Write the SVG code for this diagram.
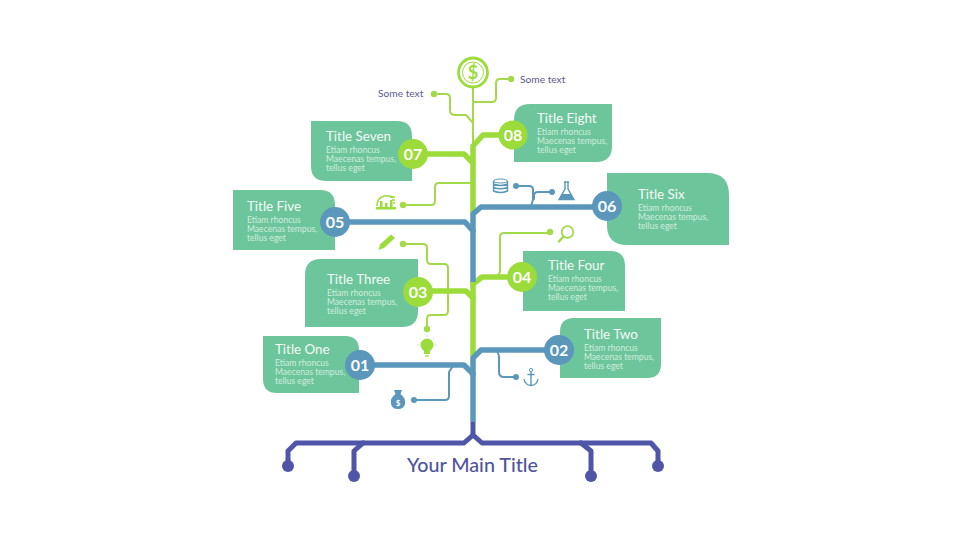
<svg xmlns="http://www.w3.org/2000/svg" width="960" height="540" viewBox="0 0 960 540">
<style>
text{font-family:"Lato","Open Sans","Liberation Sans",sans-serif}
.card{fill:#6dc59b}
.t{font-size:13.4px;fill:#f4fbf6}
.b{font-size:8.6px;fill:#cfeddc}
.n{font-size:16px;font-weight:700;fill:#fff;text-anchor:middle;font-family:"Lato","Open Sans",sans-serif}
.lime{fill:#9bdb3a}.blue{fill:#5b97bb}
.st{fill:none;stroke-linejoin:round;stroke-linecap:round}
.gT{stroke:#9bdb3a;stroke-width:5.500}
.bT{stroke:#5b97bb;stroke-width:5.500}
.pT{stroke:#4f55a7;stroke-width:5}
.gt{stroke:#a5d94c;stroke-width:2}
.bt{stroke:#5b97bb;stroke-width:2}
.some{font-size:10.200px;fill:#5a5a90}
.ig{fill:#9bdb3a}.ib{fill:#5b97bb}
.lg{fill:none;stroke:#9bdb3a;stroke-width:1.600}
.lb{fill:none;stroke:#5b97bb;stroke-width:1.400}
</style>
<rect width="960" height="540" fill="#fff"/>

<g id="connectors">
 <g class="st gt">
  <path d="M473 88V146"/>
  <path d="M434 94H446Q450 94 450 98V110Q450 115 455 115H466L473 123"/>
  <path d="M511 79H500Q496 79 496 83V98Q496 102 492 102H473"/>
  <path d="M403 205H431Q435 205 435 201V187Q435 183 439 183H473"/>
  <path d="M403 244H423Q427 244 427 248V260Q427 264 431 264H444Q448 264 448 268V291"/>
  <path d="M448 291V311Q448 315 444 315H431Q427 315 427 319V329"/>
  <path d="M497 277L500 272V237Q500 233 504 233H550"/>
 </g>
 <g class="st bt">
  <path d="M453 366L449 372V396Q449 400 445 400H414"/>
  <path d="M497 351L499 356V372Q499 377 504 377H516"/>
  <path d="M516 186H529Q533 186 533 190V200L531 206"/>
  <path d="M552 192H538Q534 192 534 196V199"/>
 </g>
 <g class="st gT">
  <path d="M473 214V146L483 135H513" stroke-linecap="butt"/>
  <path d="M413 154H464L473 163"/>
  <path d="M473 284L482 277H522"/>
  <path d="M418 291H466L473 298"/>
  <path d="M473 282V357" stroke-linecap="butt"/>
 </g>
 <g class="st bT">
  <path d="M473 282V214L481 207H607" stroke-linecap="butt"/>
  <path d="M335 222H465L473 231"/>
  <path d="M360 365H464L473 374"/>
  <path d="M473 422V358L481 350H559" stroke-linecap="butt"/>
 </g>
 <g class="st pT">
  <path d="M473 422V435" stroke-linecap="butt"/>
  <path d="M473 435L464 443H296L288 451V466"/>
  <path d="M473 435L482 443H651L658 451V466"/>
  <path d="M363 443L354 451V476"/>
  <path d="M581 443L591 451V476"/>
 </g>
 <g fill="#a5d94c">
  <circle cx="434" cy="94" r="3.200"/><circle cx="511" cy="79" r="3.200"/>
  <circle cx="403" cy="205" r="3.200"/><circle cx="403" cy="244" r="3.200"/>
  <circle cx="427" cy="329" r="3.200"/><circle cx="550" cy="232" r="3.200"/>
 </g>
 <g fill="#5b97bb">
  <circle cx="414" cy="400" r="3"/><circle cx="516" cy="377" r="3"/>
  <circle cx="516" cy="186" r="3"/><circle cx="552" cy="192" r="3"/>
 </g>
 <g fill="#4f55a7">
  <circle cx="288" cy="466" r="6"/><circle cx="354" cy="476" r="6"/>
  <circle cx="591" cy="476" r="6"/><circle cx="658" cy="466" r="6"/>
 </g>
</g>

<g id="root-icon">
 <circle cx="473" cy="72.500" r="14.500" fill="#fff" stroke="#9bdb3a" stroke-width="2.800"/>
 <circle cx="473" cy="72.500" r="10.500" fill="none" stroke="#9bdb3a" stroke-width="1"/>
 <text x="473" y="79" font-size="18" font-weight="700" text-anchor="middle" fill="#9bdb3a">$</text>
</g>
<g id="label-left"><text class="some" x="378" y="97">Some text</text></g>
<g id="label-right"><text class="some" x="520" y="83">Some text</text></g>

<g id="node-08">
 <path class="card" d="M530 104H612V146Q612 162 596 162H514V120Q514 104 530 104Z"/>
 <circle class="lime" cx="513" cy="135" r="14.500"/>
 <text class="n" x="513" y="141">08</text>
 <text class="t" x="537" y="122.500">Title Eight</text>
 <text class="b" x="537" y="135">Etiam rhoncus</text><text class="b" x="537" y="144">Maecenas tempus,</text><text class="b" x="537" y="153">tellus eget</text>
</g>
<g id="node-07">
 <path class="card" d="M311 121H397Q412 121 412 136V181H326Q311 181 311 166Z"/>
 <circle class="lime" cx="413" cy="154" r="15"/>
 <text class="n" x="413" y="160">07</text>
 <text class="t" x="326" y="140.500">Title Seven</text>
 <text class="b" x="326" y="153">Etiam rhoncus</text><text class="b" x="326" y="162">Maecenas tempus,</text><text class="b" x="326" y="171">tellus eget</text>
</g>
<g id="node-06">
 <path class="card" d="M607 173H707Q729 173 729 195V245H627Q607 245 607 225Z"/>
 <circle class="blue" cx="607" cy="206" r="15"/>
 <text class="n" x="607" y="212">06</text>
 <text class="t" x="638" y="198.500">Title Six</text>
 <text class="b" x="638" y="211">Etiam rhoncus</text><text class="b" x="638" y="220">Maecenas tempus,</text><text class="b" x="638" y="229">tellus eget</text>
</g>
<g id="node-05">
 <path class="card" d="M233 190H320Q335 190 335 205V250H233Z"/>
 <circle class="blue" cx="335" cy="222" r="15"/>
 <text class="n" x="335" y="228">05</text>
 <text class="t" x="247" y="210.500">Title Five</text>
 <text class="b" x="247" y="223">Etiam rhoncus</text><text class="b" x="247" y="232">Maecenas tempus,</text><text class="b" x="247" y="241">tellus eget</text>
</g>
<g id="node-04">
 <path class="card" d="M523 251H610Q625 251 625 266V311H523Z"/>
 <circle class="lime" cx="522" cy="277" r="15"/>
 <text class="n" x="522" y="283">04</text>
 <text class="t" x="548" y="269.500">Title Four</text>
 <text class="b" x="548" y="282">Etiam rhoncus</text><text class="b" x="548" y="291">Maecenas tempus,</text><text class="b" x="548" y="300">tellus eget</text>
</g>
<g id="node-03">
 <path class="card" d="M321 259H418V311Q418 327 402 327H305V275Q305 259 321 259Z"/>
 <circle class="lime" cx="418" cy="292" r="15"/>
 <text class="n" x="418" y="298">03</text>
 <text class="t" x="327" y="283.500">Title Three</text>
 <text class="b" x="327" y="296">Etiam rhoncus</text><text class="b" x="327" y="305">Maecenas tempus,</text><text class="b" x="327" y="314">tellus eget</text>
</g>
<g id="node-02">
 <path class="card" d="M574 318H661V364Q661 378 647 378H560V332Q560 318 574 318Z"/>
 <circle class="blue" cx="559" cy="350" r="15"/>
 <text class="n" x="559" y="356">02</text>
 <text class="t" x="584" y="338.500">Title Two</text>
 <text class="b" x="584" y="351">Etiam rhoncus</text><text class="b" x="584" y="360">Maecenas tempus,</text><text class="b" x="584" y="369">tellus eget</text>
</g>
<g id="node-01">
 <path class="card" d="M263 336H345Q359 336 359 350V393H277Q263 393 263 379Z"/>
 <circle class="blue" cx="360" cy="365" r="15"/>
 <text class="n" x="360" y="371">01</text>
 <text class="t" x="275" y="353.500">Title One</text>
 <text class="b" x="275" y="366">Etiam rhoncus</text><text class="b" x="275" y="375">Maecenas tempus,</text><text class="b" x="275" y="384">tellus eget</text>
</g>

<g id="icon-chart">
 <path class="ig" d="M376 209.500H396V207H376Z"/>
 <path class="ig" d="M380 201h2.500v6H380ZM385 203h2.500v4H385ZM390 200h2.500v7H390Z"/>
 <path class="lg" d="M377 206Q377 198 384 196Q390 195 393 198"/>
 <path class="lg" stroke-width="1" d="M390 197H395M392 200H395M393 203H395"/>
</g>
<g id="icon-pencil">
 <path class="ig" d="M391 234.500L395 238L384 248L378.500 250L380 244.500Z"/>
</g>
<g id="icon-bulb">
 <circle class="ig" cx="427" cy="345" r="6.500"/>
 <path class="ig" d="M424 350H430V354H424Z"/>
 <path d="M425 356H429" stroke="#9bdb3a" stroke-width="1.200"/>
 <path d="M419 345H417M435 345H437M427 337V335M421 339L420 338M433 339L434 338" stroke="#c9ea92" stroke-width="0.800"/>
</g>
<g id="icon-money">
 <path class="ib" d="M394 390H402L400.500 394Q406 398 405 404Q404 409 398 409Q392 409 391 404Q390 398 395.500 394Z"/>
 <text x="398" y="406" font-size="8" font-weight="700" fill="#fff" text-anchor="middle">$</text>
</g>
<g id="icon-database">
 <ellipse cx="500.500" cy="181" rx="7" ry="2" fill="none" stroke="#5b97bb" stroke-width="1"/>
 <path class="lb" stroke-width="1.100" d="M493.500 181V191Q500.500 194 507.500 191V181M493.500 184Q500.500 187 507.500 184M493.500 187.500Q500.500 190 507.500 187.500"/>
</g>
<g id="icon-flask">
 <path class="lb" d="M564 182H569M565 182V189L559 199.500H574L568 189V182"/>
 <path class="ib" d="M562 194H571L574 199.500H559Z"/>
</g>
<g id="icon-magnifier">
 <circle cx="567.500" cy="232" r="5.800" fill="none" stroke="#a5d94c" stroke-width="1.800"/>
 <path d="M563 237L559 241.500" stroke="#a5d94c" stroke-width="2.500" stroke-linecap="round"/>
</g>
<g id="icon-anchor">
 <circle cx="531" cy="370" r="1.600" fill="none" stroke="#5b97bb" stroke-width="1"/>
 <path class="lb" d="M531 372V385M527.500 374.500H534.500M524 379Q525 385 531 385.500Q537 385 538 379"/>
</g>

<g id="main-title"><text x="407" y="472" font-size="19.700" font-weight="500" fill="#4f55a0">Your Main Title</text></g>
</svg>
